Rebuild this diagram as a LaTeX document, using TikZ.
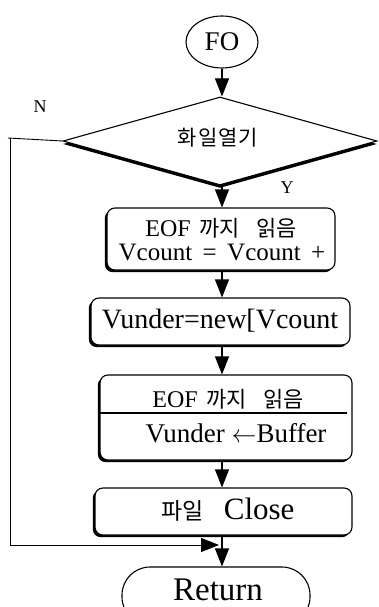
\documentclass[tikz,border=0pt]{standalone}
\usepackage{fontspec}
\setmainfont{Liberation Serif}
\newfontfamily\kr{Noto Sans CJK KR}
\usetikzlibrary{arrows.meta,shapes.geometric,shadows,calc}
\newcommand{\krt}[2]{{\kr\fontsize{#1}{#1}\selectfont #2}}
\tikzset{
  fsz/.style={font=\fontsize{#1}{#1}\selectfont},
  boxstyle/.style={draw, line width=1.1pt, fill=white, rounded corners=8pt, inner sep=0pt,
    drop shadow={shadow xshift=-2.2pt, shadow yshift=-2.2pt, fill=black, opacity=1}},
  flow/.style={line width=1.1pt, -{Triangle[width=14pt,length=18pt]}},
  loopline/.style={line width=0.9pt},
  lbl/.style={inner sep=0pt, fsz=18}
}
\begin{document}
\begin{tikzpicture}[x=1pt,y=-1pt]
\useasboundingbox (0,0) rectangle (378,607);
\clip (0,0) rectangle (378,607);
\coordinate (ax) at (222,0);
% start
\node[draw, line width=1.1pt, ellipse, minimum width=72pt, minimum height=52pt, inner sep=0pt, fsz=27] (fo) at (222,42) {FO};
% decision
\node[draw, line width=1.1pt, diamond, fill=white, minimum width=314pt, minimum height=88pt, inner sep=0pt,
  drop shadow={shadow xshift=0pt, shadow yshift=-3pt, fill=black, opacity=1}] (dec) at (220,141) {};
\node[inner sep=0pt] (dect) at (218,138) {\krt{21}{화\hspace{1pt}일\hspace{1pt}열\hspace{1pt}기}};
\node[lbl] (nl) at (40,107) {N};
\node[lbl] (yl) at (287,188) {Y};
% box 1
\node[boxstyle, minimum width=228pt, minimum height=62pt] (b1) at (221,239) {};
\node[inner sep=0pt, fsz=24] (b1t1) at (221,228) {EOF\hspace{9pt}\krt{22}{까지}\hspace{16pt}\krt{22}{읽음}};
\node[inner sep=0pt, fsz=25] (b1t2) at (222,253) {Vcount\, = \,Vcount\, +};
% box 2
\node[boxstyle, minimum width=259pt, minimum height=47pt] (b2) at (220.5,321.5) {};
\node[inner sep=0pt, fsz=28] (b2t) at (220,321) {Vunder=new[Vcount};
% box 3
\node[boxstyle, minimum width=252pt, minimum height=85pt] (b3) at (226,417.5) {};
\node[inner sep=0pt, fsz=24] (b3t1) at (228,399) {EOF\hspace{9pt}\krt{22}{까지}\hspace{16pt}\krt{22}{읽음}};
\node[inner sep=0pt, fsz=27] (b3t2) at (236,433) {Vunder $\leftarrow$Buffer};
\coordinate (dv1) at (100,413);
\coordinate (dv2) at (347,413);
\draw[line width=2.2pt] (dv1) -- (dv2);
% box 4
\node[boxstyle, minimum width=257pt, minimum height=47pt] (b4) at (223.5,511.5) {};
\node[inner sep=0pt, fsz=31] (b4t) at (228,510) {\krt{23}{파일}\hspace{20pt}Close};
% end
\node[draw, line width=1.1pt, rounded corners=28pt, minimum width=188pt, minimum height=58pt, inner sep=0pt] (ret) at (216,596) {};
\node[inner sep=0pt, fsz=33] (rett) at (218,590) {Return};
% connectors
\draw[flow] (fo.south -| ax) -- (dec.north -| ax);
\draw[flow] (dec.south -| ax) -- (b1.north -| ax);
\draw[flow] (b1.south -| ax) -- (b2.north -| ax);
\draw[flow] (b2.south -| ax) -- (b3.north -| ax);
\draw[flow] (b3.south -| ax) -- (b4.north -| ax);
\draw[flow] (b4.south -| ax) -- (ret.north -| ax);
\coordinate (lp0) at (8,138);
\coordinate (lp1) at (10,138);
\coordinate (lp2) at (10,545);
\coordinate (lpe) at (219,545);
\draw[loopline] (dec.west) -- (lp0);
\draw[loopline, -{Triangle[width=14pt,length=18pt]}] (lp1) -- (lp2) -- (lpe);
\end{tikzpicture}
\end{document}
